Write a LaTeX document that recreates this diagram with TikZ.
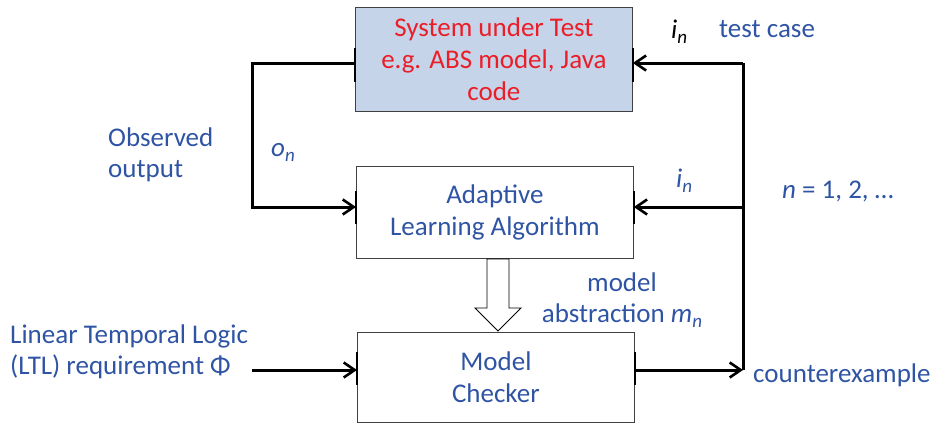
\documentclass[tikz,border=0pt]{standalone}
\usepackage{fontspec}
\setmainfont{Carlito}
\usetikzlibrary{arrows.meta,positioning}
\definecolor{tblue}{RGB}{47,84,164}
\definecolor{tred}{RGB}{235,30,40}
\definecolor{sutfill}{RGB}{198,212,234}
\newcommand{\subn}{\raisebox{-5pt}{\fontsize{19}{19}\selectfont\textit{n}}}
\begin{document}
\begin{tikzpicture}[x=1pt,y=-1pt,
  box/.style={draw=black!75,line width=0.8pt,minimum width=277pt,anchor=north west,align=center,inner sep=0pt,font=\fontsize{27}{32}\selectfont},
  conn/.style={line width=3pt,line join=miter,-{Straight Barb[length=11pt,width=15pt,line width=2.6pt]}},
  wire/.style={line width=3pt,line join=miter},
  lbl/.style={text=tblue,font=\fontsize{27}{31}\selectfont,inner sep=0pt},
  tick/.style={line width=2.2pt}]
\useasboundingbox (0,0) rectangle (936,423);
% boxes
\node[box,fill=sutfill,minimum height=104pt,text=tred] (sut) at (355,7) {System under Test\\e.g. ABS model, Java\\code};
\node[box,minimum height=92pt,text=tblue] (ala) at (356,166) {Adaptive\\Learning Algorithm};
\node[box,minimum height=90pt,text=tblue] (mc) at (357,332) {Model\\Checker};
% coordinates
\coordinate (lt) at (252,63);
\coordinate (lb) at (252,207);
\coordinate (rt) at (743,63);
\coordinate (rm) at (743,207);
\coordinate (rb) at (743,370);
\coordinate (ltl) at (252,370);
% ticks at ports
\draw[tick] (sut.north west |- 0,48) -- (sut.north west |- 0,82);
\draw[tick] (sut.north east |- 0,48) -- (sut.north east |- 0,82);
\draw[tick] (ala.north west |- 0,191) -- (ala.north west |- 0,224);
\draw[tick] (ala.north east |- 0,191) -- (ala.north east |- 0,224);
\draw[tick] (mc.north west |- 0,352) -- (mc.north west |- 0,385);
\draw[tick] (mc.north east |- 0,352) -- (mc.north east |- 0,385);
% connectors
\draw[conn] (sut.west |- lt) -- (lt) -- (lb) -- (ala.west |- lb);
\draw[wire] (rt) -- (rb);
\draw[conn] (rt) -- (sut.east |- rt);
\draw[conn] (rm) -- (ala.east |- rm);
\draw[conn] (mc.east |- rb) -- (rb);
\draw[conn] (ltl) -- (mc.west |- ltl);
% hollow arrow
\draw[line width=0.8pt,fill=white] (487,259) -- (509,259) -- (509,308) -- (521,308) -- (498,331) -- (475,308) -- (487,308) -- cycle;
% labels
\node[lbl,text=black,anchor=base west] (in1) at (671,38) {\textit{i}\subn};
\node[lbl,anchor=base west] (tc) at (719,37) {test case};
\node[lbl,anchor=base west] (on) at (271,156) {\textit{o}\subn};
\node[lbl,align=left,anchor=north west] (obs) at (108,128) {Observed\\output};
\node[lbl,anchor=base west] (in2) at (676,187) {\textit{i}\subn};
\node[lbl,anchor=base west] (nn) at (782,198) {\textit{n} = 1, 2, …};
\node[lbl,align=center,anchor=north] (mabs) at (622,273) {model\\abstraction \textit{m}\subn};
\node[lbl,align=left,anchor=north west] (ltlt) at (10,325) {Linear Temporal Logic\\(LTL) requirement Φ};
\node[lbl,anchor=base west] (cex) at (753,382) {counterexample};
\end{tikzpicture}
\end{document}
